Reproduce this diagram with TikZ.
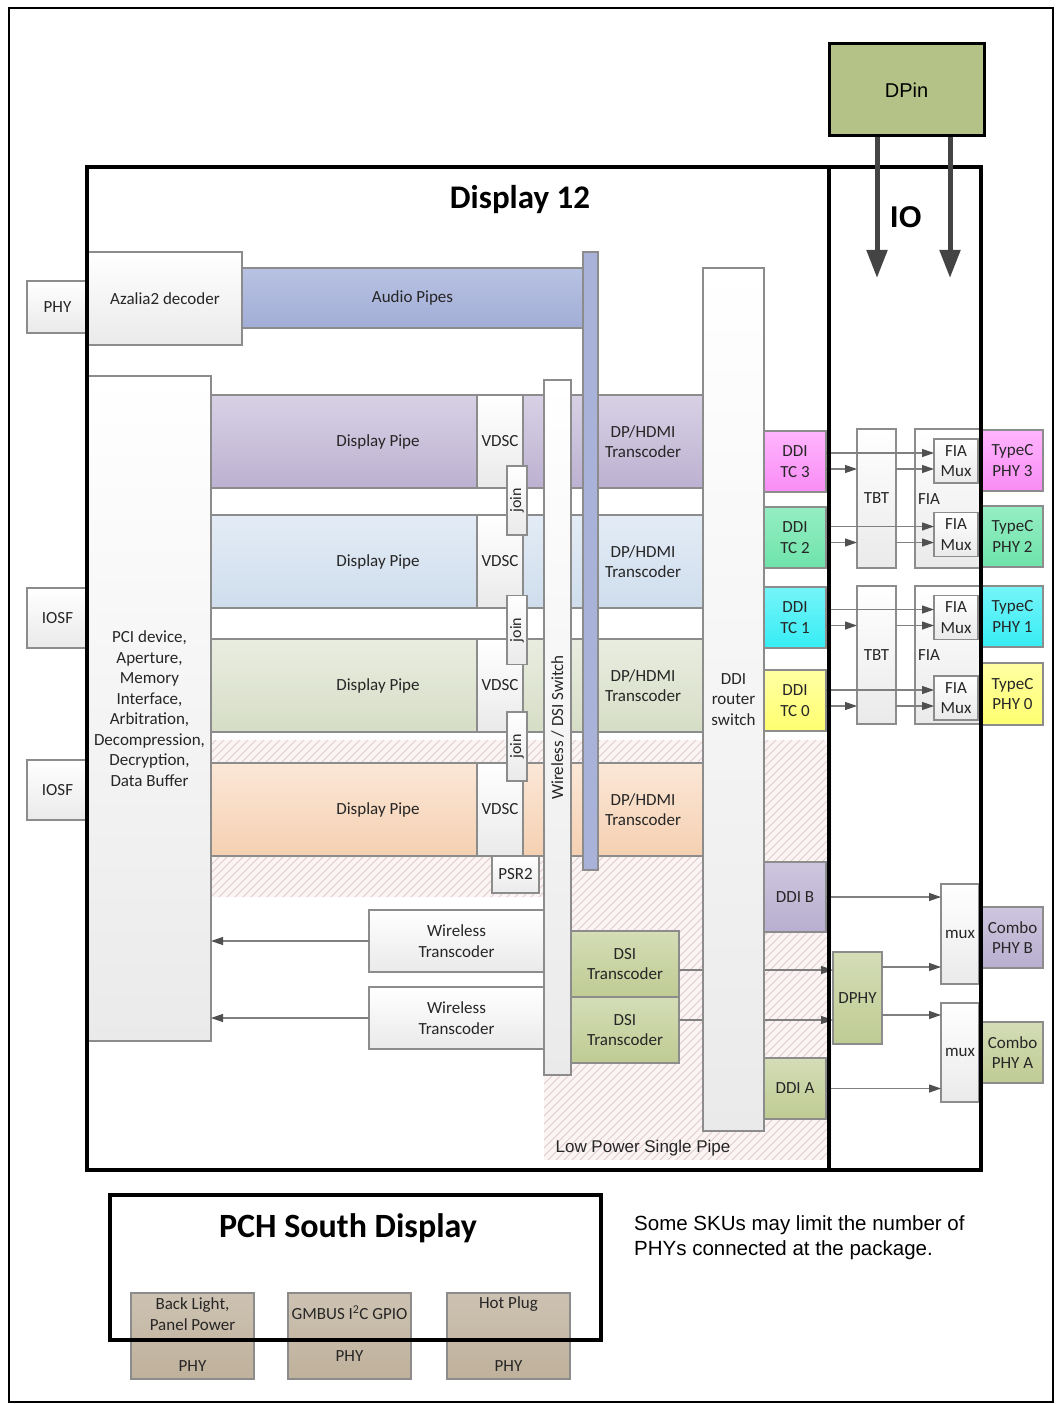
\documentclass[tikz,border=0pt]{standalone}
\usepackage{fontspec}
\setmainfont{Carlito}
\newfontfamily\arialf{Liberation Sans}
\usetikzlibrary{arrows.meta}

\definecolor{edge}{HTML}{8C8C8C}
\definecolor{txt}{HTML}{262626}
\definecolor{boxlow}{HTML}{EAEAEA}
\definecolor{linec}{HTML}{808080}
\definecolor{headc}{HTML}{505050}
\definecolor{p1t}{HTML}{D8D1E5}\definecolor{p1b}{HTML}{BCB1D1}
\definecolor{p2t}{HTML}{E3ECF6}\definecolor{p2b}{HTML}{CFDDEC}
\definecolor{p3t}{HTML}{E9EDE0}\definecolor{p3b}{HTML}{D6DDC6}
\definecolor{p4t}{HTML}{FBE7D7}\definecolor{p4b}{HTML}{F5D0B1}
\definecolor{audt}{HTML}{B8C2E3}\definecolor{audb}{HTML}{A2ADD6}
\definecolor{abar}{HTML}{A9B3DA}
\definecolor{tc3t}{HTML}{FFB5FF}\definecolor{tc3b}{HTML}{F98CF4}
\definecolor{tc2t}{HTML}{95EEC3}\definecolor{tc2b}{HTML}{6EE3AA}
\definecolor{tc1t}{HTML}{75F4F9}\definecolor{tc1b}{HTML}{36EDF4}
\definecolor{tc0t}{HTML}{FFFFA3}\definecolor{tc0b}{HTML}{FFFF70}
\definecolor{purt}{HTML}{CEC6DF}\definecolor{purb}{HTML}{B8AECF}
\definecolor{olvt}{HTML}{D4DDB6}\definecolor{olvb}{HTML}{BFCB93}
\definecolor{dpinc}{HTML}{B4C287}
\definecolor{tant}{HTML}{CDC2B2}\definecolor{tanb}{HTML}{BFB19B}
\definecolor{hatchbg}{HTML}{FBF4F4}
\definecolor{hatchln}{HTML}{E2CBCB}
\definecolor{bigarr}{HTML}{444444}

\tikzset{
  wh/.style 2 args={minimum width=#1pt, minimum height=#2pt},
  blk/.style={draw=edge, line width=1.1pt, inner sep=0pt, outer sep=0pt, align=center,
    text=txt, font=\fontsize{17}{20.5}\selectfont},
  gbox/.style={blk, top color=white, bottom color=boxlow},
  lbl/.style={inner sep=0pt, align=center, text=txt, font=\fontsize{17}{20.5}\selectfont},
  conn/.style={draw=linec, line width=1.2pt, -{Triangle[width=8pt,length=12pt,color=headc]}},
  iodown/.style={draw=bigarr, line width=5pt, -{Triangle[width=20pt,length=28pt]}},
  frame/.style={draw=black, line width=3.5pt},
}

\begin{document}
\begin{tikzpicture}[x=1pt,y=-1pt]
\useasboundingbox (0,0) rectangle (1055,1404);
\draw[line width=1.5pt] (9,8) rectangle (1053,1402);

% low power single pipe area
\begin{scope}
  \clip (211,740) -- (829,740) -- (829,1160) -- (544,1160) -- (544,897) -- (211,897) -- cycle;
  \fill[hatchbg] (211,740) rectangle (829,1160);
  \foreach \i in {-220,-212,...,836}
    \draw[hatchln, line width=0.8pt] (\i,1160) -- ++(420,-420);
\end{scope}
\node[lbl, font=\arialf\fontsize{17}{20}\selectfont] (lpsp) at (643,1148) {Low Power Single Pipe};

% audio
\node[gbox, wh={61}{52}] (phya) at (57.5,307) {PHY};
\node[gbox, wh={154}{93}] (azalia) at (165,298.5) {Azalia2 decoder};
\node[blk, top color=audt, bottom color=audb, wh={341}{60}] (audio) at (412.5,298) {Audio Pipes};

% pipes
\foreach \n/\y/\ct/\cb in {1/441.5/p1t/p1b, 2/561.5/p2t/p2b, 3/685.5/p3t/p3b, 4/809.5/p4t/p4b} {
  \node[blk, top color=\ct, bottom color=\cb, wh={492}{93}] (pipe\n) at (457,\y) {};
  \node[lbl] (dp\n) at (378,\y) {Display Pipe};
  \node[lbl] (trans\n) at (643,\y) {DP/HDMI\\Transcoder};
  \node[gbox, wh={46}{93}] (vdsc\n) at (500,\y) {VDSC};
}
\foreach \n/\y in {1/500.5, 2/630, 3/746.5}
  \node[gbox, rotate=90, wh={69}{20}, font=\fontsize{16}{18}\selectfont] (join\n) at (517,\y) {join};
\node[gbox, wh={47}{37}] (psr) at (515.5,874.5) {PSR2};
\node[gbox, rotate=90, wh={695}{27}] (wsw) at (557.5,727.5) {Wireless / DSI Switch};
\node[blk, fill=abar, wh={15}{618}] (abar) at (590.5,561) {};

% pci and iosf
\node[gbox, wh={123}{665}] (pci) at (149.5,708.5)
  {PCI device,\\Aperture,\\Memory\\Interface,\\Arbitration,\\Decompression,\\Decryption,\\Data Buffer};
\node[gbox, wh={61}{60}] (iosf1) at (57.5,618) {IOSF};
\node[gbox, wh={61}{60}] (iosf2) at (57.5,790) {IOSF};

% wireless and dsi transcoders
\node[gbox, wh={175}{62}] (wt1) at (456.5,941) {Wireless\\Transcoder};
\node[gbox, wh={175}{62}] (wt2) at (456.5,1018) {Wireless\\Transcoder};
\draw[conn] (wt1.west) -- (wt1.west -| pci.east);
\draw[conn] (wt2.west) -- (wt2.west -| pci.east);
\node[blk, top color=olvt, bottom color=olvb, wh={108}{66}] (dsi1) at (625,964) {DSI\\Transcoder};
\node[blk, top color=olvt, bottom color=olvb, wh={108}{66}] (dsi2) at (625,1030) {DSI\\Transcoder};

% io side, lower part
\node[blk, top color=olvt, bottom color=olvb, wh={49}{92}] (dphy) at (857.5,998) {DPHY};
\coordinate (ds1) at ([yshift=-6pt]dsi1.east);
\coordinate (ds2) at ([yshift=10pt]dsi2.east);
\draw[conn] (ds1) -- (ds1 -| dphy.west);
\draw[conn] (ds2) -- (ds2 -| dphy.west);

\node[gbox, wh={61}{863}] (router) at (733.5,699.5) {DDI\\router\\switch};

% ddi ports
\node[blk, top color=tc3t, bottom color=tc3b, wh={62}{61}] (tc3) at (795,461.5) {DDI\\TC 3};
\node[blk, top color=tc2t, bottom color=tc2b, wh={62}{61}] (tc2) at (795,537.5) {DDI\\TC 2};
\node[blk, top color=tc1t, bottom color=tc1b, wh={62}{61}] (tc1) at (795,617.5) {DDI\\TC 1};
\node[blk, top color=tc0t, bottom color=tc0b, wh={62}{61}] (tc0) at (795,700.5) {DDI\\TC 0};
\node[blk, top color=purt, bottom color=purb, wh={62}{70}] (ddib) at (795,897) {DDI B};
\node[blk, top color=olvt, bottom color=olvb, wh={62}{61}] (ddia) at (795,1088.5) {DDI A};

% tbt / fia
\node[gbox, wh={39}{139}] (tbt1) at (876.5,498.5) {TBT};
\node[gbox, wh={39}{138}] (tbt2) at (876.5,655) {TBT};
\node[gbox, wh={65}{139}] (fia1) at (947.5,498.5) {};
\node[gbox, wh={65}{138}] (fia2) at (947.5,655) {};
\node[lbl] (fia1t) at (929,499) {FIA};
\node[lbl] (fia2t) at (929,655) {FIA};
\foreach \n/\y in {3/461, 2/534.5, 1/617.5, 0/698}
  \node[gbox, wh={44}{44}] (fmux\n) at (956,\y) {FIA\\Mux};
\foreach \n/\t in {3/1, 2/1, 1/2, 0/2} {
  \coordinate (hi\n) at ([yshift=8pt]fmux\n.west);
  \coordinate (lo\n) at ([yshift=-8pt]fmux\n.west);
  \draw[conn] (hi\n -| tc\n.east) -- (hi\n);
  \draw[conn] (lo\n -| tc\n.east) -- (lo\n -| tbt\t.west);
  \draw[conn] (lo\n -| tbt\t.east) -- (lo\n);
}
\node[blk, top color=tc3t, bottom color=tc3b, wh={61}{61}] (tphy3) at (1012.5,460.5) {TypeC\\PHY 3};
\node[blk, top color=tc2t, bottom color=tc2b, wh={61}{61}] (tphy2) at (1012.5,536.5) {TypeC\\PHY 2};
\node[blk, top color=tc1t, bottom color=tc1b, wh={61}{61}] (tphy1) at (1012.5,616.5) {TypeC\\PHY 1};
\node[blk, top color=tc0t, bottom color=tc0b, wh={61}{62}] (tphy0) at (1012.5,694) {TypeC\\PHY 0};

% combo phys
\node[gbox, wh={38}{100}] (mux1) at (960,934) {mux};
\node[gbox, wh={38}{99}] (mux2) at (960,1052.5) {mux};
\node[blk, top color=purt, bottom color=purb, wh={61}{61}] (cphyb) at (1012.5,937.5) {Combo\\PHY B};
\node[blk, top color=olvt, bottom color=olvb, wh={61}{61}] (cphya) at (1012.5,1052.5) {Combo\\PHY A};
\coordinate (dp1) at ([yshift=31pt]dphy.east);
\coordinate (dp2) at ([yshift=-17pt]dphy.east);
\draw[conn] (ddib.east) -- (ddib.east -| mux1.west);
\draw[conn] (dp1) -- (dp1 -| mux1.west);
\draw[conn] (dp2) -- (dp2 -| mux2.west);
\draw[conn] (ddia.east) -- (ddia.east -| mux2.west);

% frames
\draw[frame] (87,167) rectangle (829,1170);
\draw[frame] (829,167) rectangle (981,1170);
\node[lbl, font=\bfseries\fontsize{33}{35}\selectfont, text=black] (disp) at (520,200) {Display 12};
\node[lbl, font=\arialf\bfseries\fontsize{30}{32}\selectfont, text=black] (io) at (906,217) {IO};

% dp in
\node[draw=black, line width=3pt, fill=dpinc, wh={155}{92}, inner sep=0pt,
  font=\arialf\fontsize{20}{23}\selectfont] (dpin) at (906.5,90) {DPin};
\coordinate (io1) at (877,278);
\coordinate (io2) at (950,278);
\draw[iodown] (dpin.south -| io1) -- (io1);
\draw[iodown] (dpin.south -| io2) -- (io2);

% pch south display
\foreach \n/\x in {1/192.5, 2/349.5, 3/508.5}
  \node[blk, top color=tant, bottom color=tanb, wh={123}{86}] (pch\n) at (\x,1336) {};
\node[lbl] (bl) at (192.5,1314) {Back Light,\\Panel Power};
\node[lbl] (gm) at (349.5,1313) {GMBUS I\textsuperscript{2}C GPIO};
\node[lbl] (hp) at (508.5,1304) {Hot Plug};
\node[lbl] (phy1) at (192.5,1366) {PHY};
\node[lbl] (phy2) at (349.5,1356) {PHY};
\node[lbl] (phy3) at (508.5,1366) {PHY};
\draw[frame] (110,1195) rectangle (601,1340);
\node[lbl, font=\bfseries\fontsize{34}{36}\selectfont, text=black] (pch) at (348,1228) {PCH South Display};

\node[anchor=west, inner sep=0pt, align=left, font=\arialf\fontsize{20.5}{25}\selectfont] (note) at (634,1238)
  {Some SKUs may limit the number of\\PHYs connected at the package.};
\end{tikzpicture}
\end{document}
